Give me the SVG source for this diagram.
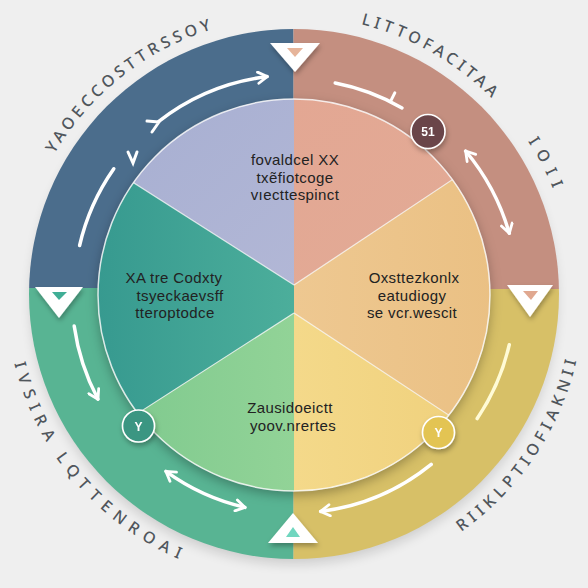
<svg xmlns="http://www.w3.org/2000/svg" width="588" height="588" viewBox="0 0 588 588">
<style>
.lbl{font-family:"Noto Sans","DejaVu Sans",sans-serif;font-size:16px;font-weight:500;fill:#50565c}
.ct{font-family:"Liberation Sans","Noto Sans",sans-serif;font-size:15px;letter-spacing:0.4px;fill:#222222;text-anchor:middle}
.arc{fill:none;stroke:#ffffff;stroke-width:3.5;stroke-linecap:round}
.sep{stroke:#ffffff;stroke-opacity:0.75;stroke-width:1.2;fill:none}
.tri{fill:#ffffff}
.mk{stroke:#ffffff;stroke-width:1.6}
.mt{font-family:"Liberation Sans","Noto Sans",sans-serif;font-size:12px;font-weight:600;fill:#ffffff;text-anchor:middle}
</style>
<defs>
<clipPath id="outerClip"><circle cx="294" cy="294" r="265"/></clipPath>
<clipPath id="pieClip"><circle cx="294" cy="295" r="196"/></clipPath>
<filter id="blur6" x="-20%" y="-20%" width="140%" height="140%"><feGaussianBlur stdDeviation="6"/></filter>
<filter id="ds" x="-20%" y="-20%" width="140%" height="140%"><feDropShadow dx="0" dy="4" stdDeviation="6" flood-color="#000" flood-opacity="0.3"/></filter>
<filter id="ds2" x="-50%" y="-50%" width="200%" height="200%"><feDropShadow dx="1" dy="3" stdDeviation="2.5" flood-color="#000" flood-opacity="0.3"/></filter>
<linearGradient id="gTeal" x1="0" y1="0" x2="1" y2="0"><stop offset="0" stop-color="#36998f"/><stop offset="1" stop-color="#4cae9b"/></linearGradient>
<linearGradient id="gLav" x1="0" y1="0" x2="1" y2="1"><stop offset="0" stop-color="#a6aed1"/><stop offset="1" stop-color="#b2b7d6"/></linearGradient>
<linearGradient id="gSal" x1="0" y1="0" x2="1" y2="1"><stop offset="0" stop-color="#e3a793"/><stop offset="1" stop-color="#e2ab96"/></linearGradient>
<linearGradient id="gOr" x1="0" y1="0" x2="1" y2="0"><stop offset="0" stop-color="#eec891"/><stop offset="1" stop-color="#eac083"/></linearGradient>
<linearGradient id="gGr" x1="0" y1="0" x2="1" y2="0"><stop offset="0" stop-color="#7cc88d"/><stop offset="1" stop-color="#92d397"/></linearGradient>
<linearGradient id="gYe" x1="0" y1="0" x2="1" y2="0"><stop offset="0" stop-color="#f4d98a"/><stop offset="1" stop-color="#efcf7a"/></linearGradient>
<marker id="ah" viewBox="0 0 10 10" refX="8" refY="5" markerWidth="4" markerHeight="4" orient="auto-start-reverse">
<path d="M1.5,1 L8,5 L1.5,9" fill="none" stroke="#ffffff" stroke-width="2" stroke-linecap="round" stroke-linejoin="round"/>
</marker>
<path id="p1" d="M32.8,199.9 A278,278 0 0 1 264.9,18.5"/>
<path id="p2" d="M294,16 A278,278 0 0 1 534.8,155"/>
<path id="p3" d="M517.6,126.5 A280,280 0 0 1 561.8,213.1"/>
<path id="p4" d="M6.7,315.1 A288,288 0 0 0 234.1,576.7"/>
<path id="p5" d="M393.2,567.5 A290,290 0 0 0 583.6,279.8"/>
</defs>

<rect x="0" y="0" width="588" height="588" fill="#efefef"/>
<circle cx="294" cy="301" r="263" fill="#000" opacity="0.14" filter="url(#blur6)"/>

<g id="ring" clip-path="url(#outerClip)">
<rect x="0" y="0" width="293.5" height="288" fill="#4b6d8c"/>
<rect x="293.5" y="0" width="300" height="289" fill="#c48f80"/>
<rect x="0" y="288" width="293.5" height="300" fill="#58b493"/>
<rect x="293.5" y="289" width="300" height="300" fill="#d7c067"/>
</g>

<circle cx="294" cy="295" r="196" fill="#888" filter="url(#ds)"/>

<g id="pie" clip-path="url(#pieClip)">
<g id="sector-top-left"><polygon points="294,285 90,155 90,90 294,90" fill="url(#gLav)"/></g>
<g id="sector-top-right"><polygon points="294,285 294,90 500,90 500,148" fill="url(#gSal)"/></g>
<g id="sector-left"><polygon points="294,285 90,155 90,444 294,313" fill="url(#gTeal)"/></g>
<g id="sector-right"><polygon points="294,285 500,148 500,449 294,313" fill="url(#gOr)"/></g>
<g id="sector-bottom-left"><polygon points="294,313 90,444 90,500 294,500" fill="url(#gGr)"/></g>
<g id="sector-bottom-right"><polygon points="294,313 500,449 500,500 294,500" fill="url(#gYe)"/></g>
<path class="sep" d="M294,285 L90,155 M294,285 L500,148 M294,313 L90,444 M294,313 L500,449"/>
</g>
<circle cx="294" cy="295" r="196" fill="none" stroke="#ffffff" stroke-opacity="0.8" stroke-width="1.5"/>

<g id="text-top">
<text class="ct" x="295" y="165">fovaldcel XX</text>
<text class="ct" x="295" y="182.5">txẽfiotcoge</text>
<text class="ct" x="295" y="200">vıecttespinct</text>
</g>
<g id="text-left">
<text class="ct" x="174" y="283">XA tre Codxty</text>
<text class="ct" x="180" y="300.5">tsyeckaevsff</text>
<text class="ct" x="175" y="318">tteroptodce</text>
</g>
<g id="text-right">
<text class="ct" x="414" y="283">Oxsttezkonlx</text>
<text class="ct" x="412" y="300.5">eatudiogy</text>
<text class="ct" x="412" y="318">se vcr.wescit</text>
</g>
<g id="text-bottom">
<text class="ct" x="290" y="413">Zausidoeictt</text>
<text class="ct" x="293" y="430.5">yoov.nrertes</text>
</g>

<g id="connectors">
<path class="arc" d="M158.5,121.6 A220,220 0 0 1 267.2,76.6" marker-end="url(#ah)"/>
<path class="arc" style="stroke-width:3" d="M147,121 L159,122 M152,132 L159,122"/>
<path class="arc" style="stroke-width:3" d="M128,152 L133,163 L137,152"/>
<path class="arc" d="M113.8,168.8 A220,220 0 0 0 79.6,245.5"/>
<path class="arc" d="M74.2,325.9 A222,222 0 0 0 98,399.2" marker-end="url(#ah)"/>
<path class="arc" d="M165.9,471.4 A218,218 0 0 0 245,507.4" marker-start="url(#ah)" marker-end="url(#ah)"/>
<path class="arc" d="M320.6,511.4 A218,218 0 0 0 431.2,464.4" marker-start="url(#ah)"/>
<path class="arc" style="stroke:#fffbd6" d="M477.2,418.6 A221,221 0 0 0 509.3,344.7"/>
<path class="arc" d="M465.6,151 A224,224 0 0 1 509.3,233.3" marker-start="url(#ah)" marker-end="url(#ah)"/>
<path class="arc" d="M335.2,83 A216,216 0 0 1 402,107.9"/>
<path class="arc" style="stroke-width:3" d="M390.4,101.7 L394.8,92.8"/>
</g>

<g id="tri-top" filter="url(#ds2)">
<polygon class="tri" points="270,43 320,43 295,72"/>
<polygon points="287,48 303,48 295,57" fill="#e6b49a"/>
</g>
<g id="tri-left" filter="url(#ds2)">
<polygon class="tri" points="35,287 83,287 59,318"/>
<polygon points="52,292 67,292 59,300" fill="#3fae96"/>
</g>
<g id="tri-right" filter="url(#ds2)">
<polygon class="tri" points="507,285 553,285 530,317"/>
<polygon points="523,291 538,291 531,300" fill="#e0a890"/>
</g>
<g id="tri-bottom" filter="url(#ds2)">
<polygon class="tri" points="268,543 318,543 293,513"/>
<polygon points="286,537 300,537 293,527" fill="#6fd6bf"/>
</g>

<g id="marker-51" filter="url(#ds2)">
<circle class="mk" cx="428" cy="131.5" r="17" fill="#6b4449"/>
<text class="mt" x="428" y="136">51</text>
</g>
<g id="marker-y-left" filter="url(#ds2)">
<circle class="mk" cx="138.5" cy="426" r="16" fill="#3a9682"/>
<text class="mt" x="138.5" y="430.5">Y</text>
</g>
<g id="marker-y-right" filter="url(#ds2)">
<circle class="mk" cx="438.5" cy="432.5" r="16" fill="#e3c453"/>
<text class="mt" x="438.5" y="437">Y</text>
</g>

<g id="labels">
<text class="lbl" letter-spacing="4"><textPath href="#p1" startOffset="50%" text-anchor="middle">YAOECCOSTTRSSOY</textPath></text>
<text class="lbl" letter-spacing="4"><textPath href="#p2" startOffset="50%" text-anchor="middle">LITTOFACITAA</textPath></text>
<text class="lbl" letter-spacing="8"><textPath href="#p3" startOffset="50%" text-anchor="middle">IOII</textPath></text>
<text class="lbl" letter-spacing="7"><textPath href="#p4" startOffset="49">IVSIRA</textPath></text>
<text class="lbl" letter-spacing="7"><textPath href="#p4" startOffset="152">LQTTENROAI</textPath></text>
<text class="lbl" letter-spacing="5"><textPath href="#p5" startOffset="50%" text-anchor="middle">RIIKLPTIOFIAKNII</textPath></text>
</g>
</svg>
